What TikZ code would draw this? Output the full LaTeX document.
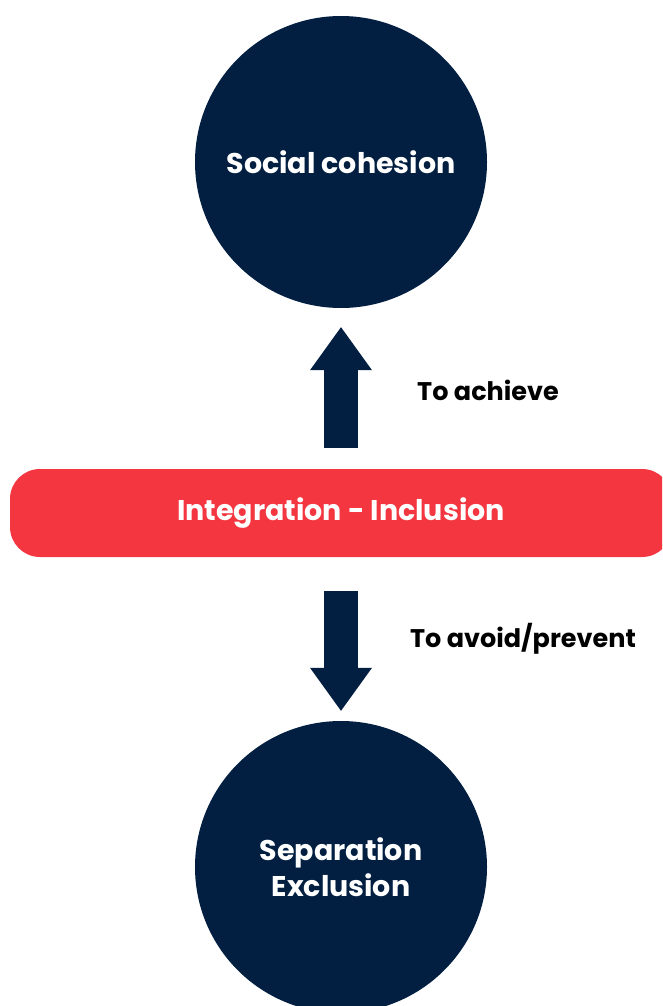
\documentclass[tikz,border=0pt]{standalone}
\usepackage{fontspec}
\setmainfont{Poppins}
\usepackage{tikz}
\usetikzlibrary{arrows.meta,positioning}
\definecolor{navy}{RGB}{2,31,65}
\definecolor{redbar}{RGB}{243,54,64}
\tikzset{font=\bfseries}
\tikzset{disc/.style={circle,fill=navy,text=white,minimum size=292pt,
    align=center,font=\bfseries\fontsize{28.5}{36}\selectfont}}
\tikzset{bar/.style={rectangle,rounded corners=30pt,fill=redbar,text=white,
    minimum width=662pt,minimum height=88pt,font=\bfseries\fontsize{28.5}{32}\selectfont}}
\tikzset{bigarrow/.style={navy,line width=34pt,
    -{Triangle[length=43pt,width=62pt,line width=0pt]}}}
\tikzset{lbl/.style={font=\bfseries\fontsize{25.5}{28}\selectfont}}

\begin{document}
\begin{tikzpicture}[x=1pt,y=1pt]
  \useasboundingbox (0,0) rectangle (662,-1006);
  \clip (0,0) rectangle (662,-1006);
  \node[disc] (cohesion) at (341,-162) {Social cohesion};
  \node[bar] (integ) at (341,-513) {Integration - Inclusion};
  \node[disc] (separation) at (341,-867) {Separation\\Exclusion};
  \draw[bigarrow,shorten <=21pt,shorten >=19pt] (integ) -- (cohesion);
  \draw[bigarrow,shorten <=34pt,shorten >=10pt] (integ) -- (separation);
  \node[lbl] (achieve) at (488,-390) {To achieve};
  \node[lbl] (avoid) at (523,-639) {To avoid/prevent};
\end{tikzpicture}
\end{document}
